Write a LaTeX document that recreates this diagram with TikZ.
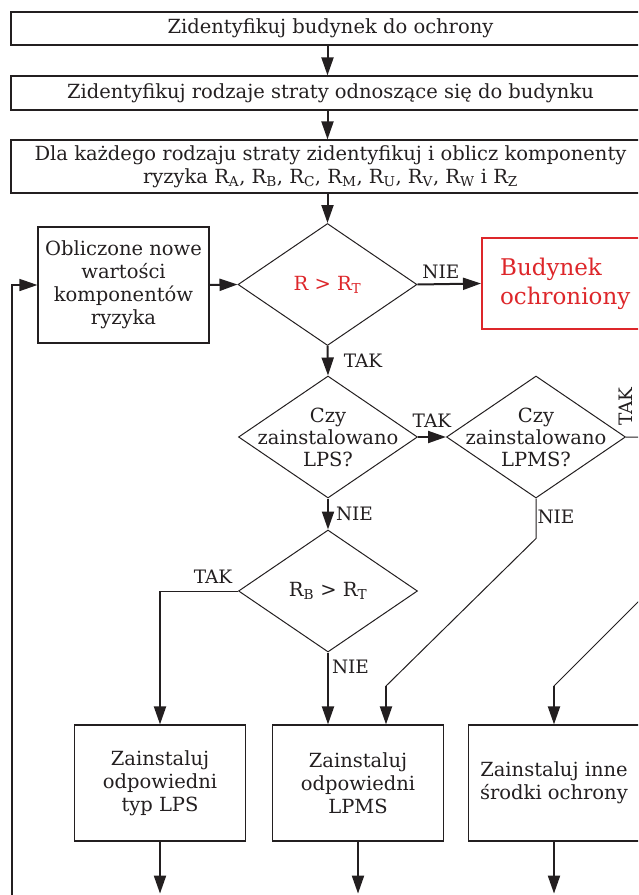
\documentclass[tikz,border=0pt]{standalone}
\usepackage{fontspec}
\setmainfont{DejaVu Serif}
\usetikzlibrary{shapes.geometric,arrows.meta}
\definecolor{ink}{RGB}{35,31,32}
\definecolor{czerw}{RGB}{221,38,42}

\begin{document}
\begin{tikzpicture}[x=1pt,y=-1pt,
  box/.style={draw=ink,line width=1.2pt,text=ink,align=center,inner sep=0pt,font=\fontsize{19.5}{23}\selectfont},
  romb/.style={draw=ink,line width=1pt,diamond,inner sep=0pt,minimum width=179pt,minimum height=122pt},
  napis/.style={text=ink,align=center,inner sep=0pt,font=\fontsize{19.5}{22}\selectfont},
  etyk/.style={text=ink,inner sep=1pt,font=\fontsize{18.5}{19}\selectfont},
  arr/.style={draw=ink,line width=2pt,-{Triangle[length=18pt,width=12pt]}},
  lin/.style={draw=ink,line width=1pt}]
\useasboundingbox (0,0) rectangle (638,895);
\clip (0,0) rectangle (638,895);

% kroki na gorze
\node[box,minimum width=639pt,minimum height=33pt] (b1) at (330.5,28.5) {Zidentyfikuj budynek do ochrony};
\node[box,minimum width=639pt,minimum height=34pt] (b2) at (330.5,93) {Zidentyfikuj rodzaje straty odnoszące się do budynku};
\node[box,minimum width=639pt,minimum height=53pt] (b3) at (330.5,166.5) {Dla każdego rodzaju straty zidentyfikuj i oblicz komponenty\\
  ryzyka R\textsubscript{A}, R\textsubscript{B}, R\textsubscript{C}, R\textsubscript{M}, R\textsubscript{U}, R\textsubscript{V}, R\textsubscript{W} i R\textsubscript{Z}};

% decyzje
\node[box,minimum width=171pt,minimum height=116pt] (obl) at (123.5,285) {Obliczone nowe\\wartości\\komponentów\\ryzyka};
\node[romb] (d1) at (327.5,284.5) {};
\node[napis,text=czerw] (t1) at (d1) {R > R\textsubscript{T}};
\node[box,draw=czerw,text=czerw,line width=2.2pt,anchor=west,align=left,text width=150pt,inner xsep=18pt,minimum height=91pt,font=\fontsize{23}{29}\selectfont] (ok) at (481,283.5) {Budynek\\ochroniony};
\node[romb] (d2) at (328,437) {};
\node[napis] (t2) at (d2) {Czy\\zainstalowano\\LPS?};
\node[romb] (d3) at (536,437) {};
\node[napis] (t3) at (d3) {Czy\\zainstalowano\\LPMS?};
\node[romb] (d4) at (328,591) {};
\node[napis] (t4) at (d4) {R\textsubscript{B} > R\textsubscript{T}};

% srodki ochrony
\node[box,minimum width=171pt,minimum height=116pt] (bA) at (160,783) {Zainstaluj\\odpowiedni\\typ LPS};
\node[box,minimum width=171pt,minimum height=116pt] (bB) at (358,783) {Zainstaluj\\odpowiedni\\LPMS};
\node[box,minimum width=171pt,minimum height=116pt] (bC) at (554,783) {Zainstaluj inne\\środki ochrony};

\draw[arr] (b1.south -| d1.north) -- (b2.north -| d1.north);
\draw[arr] (b2.south -| d1.north) -- (b3.north -| d1.north);
\draw[arr] (b3.south -| d1.north) -- (d1.north);
\draw[arr] (obl.east) -- (d1.west);
\draw[arr] (d1.east) -- node[etyk,above=3pt,pos=0.37]{NIE} (ok.west);
\draw[arr] (d1.south) -- node[etyk,right=14pt]{TAK} (d2.north);
\draw[arr] (d2.east) -- node[etyk,above=8pt]{TAK} (d3.west);
\draw[arr] (d2.south) -- node[etyk,right=6pt]{NIE} (d4.north);

\coordinate (k1) at (d4.west -| bA.north);
\draw[lin] (d4.west) -- node[etyk,above=6pt,pos=0.32]{TAK} (k1);
\draw[arr] (k1) -- (bA.north);
\draw[arr] (d4.south) -- node[etyk,right=2pt,pos=0.2]{NIE} (bB.north -| d4.south);

\draw[lin] (d3.south) -- node[etyk,right,pos=0.45]{NIE} ++(0,40) coordinate (k2) -- (386,686) coordinate (k3);
\draw[arr] (k3) -- (k3 |- bB.north);
\node[etyk,rotate=90,anchor=west] (takr) at ([xshift=0pt,yshift=10pt]d3.east) {TAK};
\draw[lin] (d3.east) -- ++(65,0) coordinate (k5) -- ++(0,112) coordinate (k6) -- (bC.north |- k3) coordinate (k7);
\draw[arr] (k7) -- (bC.north);

\draw[arr] (bA.south) -- ++(0,52) coordinate (eA);
\draw[arr] (bB.south) -- ++(0,52) coordinate (eB);
\draw[arr] (bC.south) -- ++(0,52) coordinate (eC);

% powrot
\coordinate (p0) at (12,905);
\draw[arr,line width=1.6pt] (p0) |- (obl.west);
\end{tikzpicture}
\end{document}
